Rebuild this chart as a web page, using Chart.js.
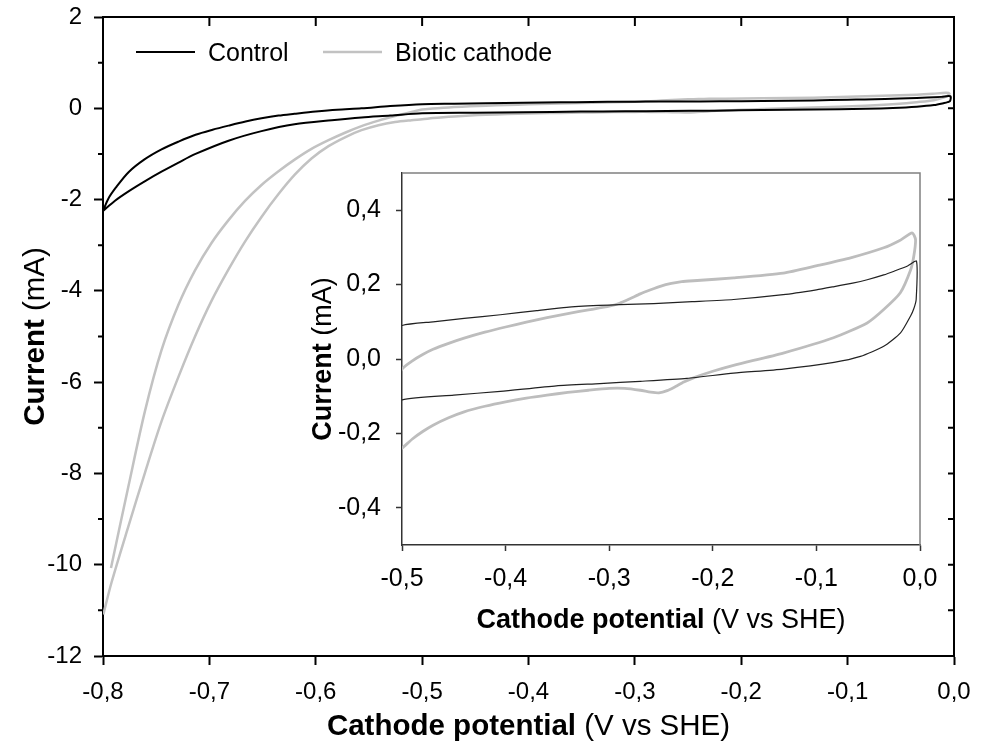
<!DOCTYPE html>
<html><head><meta charset="utf-8">
<script src="https://cdn.jsdelivr.net/npm/chart.js@4.4.0/dist/chart.umd.min.js"></script>
<style>
html,body{margin:0;padding:0;background:#fff;}
#wrap{position:relative;width:1000px;height:749px;overflow:hidden;background:#fff;}
#main{position:absolute;left:0;top:0;}
#inset{position:absolute;left:290px;top:160px;}
</style></head><body>
<div id="wrap"><canvas id="main" width="1000" height="749"></canvas><canvas id="inset" width="660" height="490"></canvas></div>
<script>
// ---- data (scan order: upper branch left->right, then lower branch right->left) ----
const seriesNames = ['Control', 'Biotic cathode'];

const controlPotential = [
 -0.800,-0.795,-0.788,-0.776,-0.761,-0.745,-0.729,-0.713,-0.697,-0.682,-0.666,-0.651,-0.635,-0.620,-0.600,-0.580,-0.557,-0.530,
 -0.500,-0.470,-0.440,-0.405,-0.370,-0.341,-0.310,-0.290,-0.257,-0.220,-0.180,-0.132,-0.100,-0.084,-0.065,-0.051,-0.035,-0.025,-0.012,-0.0034,
 -0.0037,-0.0060,-0.0092,-0.0188,-0.035,-0.0575,-0.083,-0.132,-0.180,-0.225,-0.270,-0.309,-0.351,-0.405,-0.450,-0.500,
 -0.530,-0.557,-0.585,-0.620,-0.651,-0.682,-0.713,-0.729,-0.745,-0.760,-0.776,-0.789,-0.800];
const controlCurrent = [
 -2.25,-1.98,-1.74,-1.40,-1.12,-0.90,-0.73,-0.58,-0.47,-0.38,-0.29,-0.22,-0.16,-0.12,-0.07,-0.03,0.00,0.05,
 0.090,0.100,0.109,0.119,0.130,0.139,0.144,0.146,0.149,0.154,0.160,0.173,0.186,0.194,0.204,0.213,0.226,0.236,0.250,0.263,
 0.160,0.135,0.115,0.070,0.034,0.007,-0.009,-0.027,-0.038,-0.052,-0.060,-0.066,-0.072,-0.087,-0.097,-0.110,
 -0.16,-0.20,-0.26,-0.35,-0.50,-0.71,-1.00,-1.19,-1.39,-1.59,-1.82,-2.03,-2.25];

const bioticPotential = [
 -0.7925,-0.776,-0.7605,-0.745,-0.729,-0.7135,-0.698,-0.682,-0.6665,-0.651,-0.635,-0.6195,-0.604,-0.588,-0.572,-0.557,-0.541,-0.5255,-0.510,
 -0.500,-0.490,-0.480,-0.470,-0.455,-0.440,-0.420,-0.400,-0.380,-0.360,-0.340,-0.320,-0.300,-0.290,-0.280,-0.270,-0.260,-0.250,-0.240,-0.230,-0.215,-0.180,-0.132,-0.0993,-0.067,-0.035,-0.020,-0.0075,
 -0.0043,-0.006,-0.009,-0.019,-0.035,-0.051,-0.0835,-0.132,-0.180,-0.200,-0.218,-0.228,-0.236,-0.244,-0.252,-0.260,-0.270,-0.285,-0.300,-0.320,-0.340,-0.360,-0.380,-0.400,-0.420,-0.440,-0.455,-0.470,-0.480,-0.490,-0.500,
 -0.510,-0.5255,-0.541,-0.557,-0.572,-0.588,-0.604,-0.6195,-0.635,-0.651,-0.6665,-0.682,-0.698,-0.7135,-0.729,-0.745,-0.7605,-0.776,-0.792,-0.7997];
const bioticCurrent = [
 -10.07,-8.27,-6.63,-5.30,-4.30,-3.55,-2.95,-2.45,-2.03,-1.68,-1.38,-1.12,-0.89,-0.70,-0.53,-0.39,-0.27,-0.17,-0.08,
 -0.027,-0.005,0.012,0.026,0.042,0.056,0.072,0.086,0.099,0.111,0.122,0.132,0.142,0.150,0.162,0.175,0.186,0.196,0.203,0.208,0.211,0.218,0.231,0.251,0.272,0.299,0.318,0.339,
 0.321,0.276,0.240,0.178,0.133,0.097,0.057,0.016,-0.017,-0.033,-0.050,-0.062,-0.074,-0.085,-0.091,-0.089,-0.084,-0.079,-0.079,-0.084,-0.090,-0.097,-0.105,-0.115,-0.127,-0.142,-0.158,-0.178,-0.195,-0.215,-0.240,
 -0.26,-0.30,-0.37,-0.48,-0.63,-0.83,-1.10,-1.45,-1.88,-2.38,-2.92,-3.53,-4.22,-5.00,-5.88,-6.86,-7.98,-9.15,-10.39,-11.09];

// ---- axes tick values ----
const mainXTicks = [-0.8,-0.7,-0.6,-0.5,-0.4,-0.3,-0.2,-0.1,0.0];
const mainYTicks = [-12,-10,-8,-6,-4,-2,0,2];
const mainYMinorTicks = [-11,-9,-7,-5,-3,-1,1];
const insetXTicks = [-0.5,-0.4,-0.3,-0.2,-0.1,0.0];
const insetYTicks = [-0.4,-0.2,0.0,0.2,0.4];

const FF = "'Liberation Sans', Arial, Helvetica, sans-serif";
const fmt1 = v => (Math.abs(v) < 1e-9 ? 0 : v).toFixed(1).replace('.', ',');
const fmt0 = v => String(Math.round(v));
const pts = (xs, ys) => xs.map((x, i) => ({x: x, y: ys[i]}));

function drawMixed(ctx, boldTxt, regTxt, size, cx, cy, rotate) {
  ctx.save();
  ctx.translate(cx, cy);
  if (rotate) ctx.rotate(-Math.PI / 2);
  ctx.fillStyle = '#000';
  ctx.textBaseline = 'alphabetic';
  ctx.textAlign = 'left';
  ctx.font = 'bold ' + size + 'px ' + FF;
  const wb = ctx.measureText(boldTxt).width;
  ctx.font = size + 'px ' + FF;
  const wr = ctx.measureText(regTxt).width;
  const x0 = -(wb + wr) / 2;
  ctx.font = 'bold ' + size + 'px ' + FF;
  ctx.fillText(boldTxt, x0, 0);
  ctx.font = size + 'px ' + FF;
  ctx.fillText(regTxt, x0 + wb, 0);
  ctx.restore();
}

const mainDeco = {
  id: 'mainDeco',
  afterDraw(chart) {
    const ctx = chart.ctx, a = chart.chartArea, xs = chart.scales.x, ys = chart.scales.y;
    ctx.save();
    ctx.strokeStyle = '#000';
    ctx.lineWidth = 2;
    ctx.beginPath();
    ctx.moveTo(a.left, a.top); ctx.lineTo(a.right, a.top); ctx.lineTo(a.right, a.bottom);
    ctx.stroke();
    ctx.beginPath();
    mainXTicks.forEach(v => { const x = xs.getPixelForValue(v); ctx.moveTo(x, a.top); ctx.lineTo(x, a.top + 9); });
    for (let v = -12; v <= 2; v++) { const y = ys.getPixelForValue(v); ctx.moveTo(a.right - 6, y); ctx.lineTo(a.right, y); }
    mainYMinorTicks.forEach(v => { const y = ys.getPixelForValue(v); ctx.moveTo(a.left - 5, y); ctx.lineTo(a.left, y); });
    ctx.stroke();
    // legend
    const ds = chart.data.datasets;
    const leg = [[136, 195, 208], [323, 382, 395]];
    ctx.font = '25px ' + FF;
    ctx.textBaseline = 'alphabetic';
    ctx.textAlign = 'left';
    ds.forEach((d, i) => {
      ctx.strokeStyle = d.borderColor; ctx.lineWidth = d.borderWidth;
      ctx.beginPath(); ctx.moveTo(leg[i][0], 52); ctx.lineTo(leg[i][1], 52); ctx.stroke();
      ctx.fillStyle = '#000';
      ctx.fillText(d.label, leg[i][2], 61);
    });
    ctx.restore();
    drawMixed(ctx, 'Cathode potential', ' (V vs SHE)', 29.5, (a.left + a.right) / 2, 735, false);
    drawMixed(ctx, 'Current', ' (mA)', 29.5, 44, (a.top + a.bottom) / 2, true);
  }
};

const insetDeco = {
  id: 'insetDeco',
  afterDraw(chart) {
    const ctx = chart.ctx, a = chart.chartArea;
    ctx.save();
    ctx.strokeStyle = '#808080';
    ctx.lineWidth = 1.5;
    ctx.beginPath();
    ctx.moveTo(a.left, a.top); ctx.lineTo(a.right, a.top); ctx.lineTo(a.right, a.bottom);
    ctx.stroke();
    ctx.restore();
    drawMixed(ctx, 'Cathode potential', ' (V vs SHE)', 27, (a.left + a.right) / 2, 468, false);
    drawMixed(ctx, 'Current', ' (mA)', 27, 41, (a.top + a.bottom) / 2, true);
  }
};

function axisCommon(len, w, col, pad, size) {
  return {
    grid: {display: true, drawOnChartArea: false, drawTicks: true, tickLength: len, tickColor: col, tickWidth: w},
    border: {display: true, color: col, width: w},
    ticks: {color: '#000', padding: pad, font: {family: FF, size: size}, maxRotation: 0, autoSkip: false}
  };
}
function fixPad(s) { s.paddingTop = 0; s.paddingBottom = 0; s.paddingLeft = 0; s.paddingRight = 0; }

// ---- main chart ----
const mx = axisCommon(9, 2, '#000', 13, 24);
mx.type = 'linear'; mx.position = 'bottom'; mx.min = -0.8; mx.max = 0;
mx.ticks.callback = v => fmt1(v);
mx.afterBuildTicks = s => { s.ticks = mainXTicks.map(v => ({value: v})); };
mx.afterFit = s => { s.height = 93; fixPad(s); };
const my = axisCommon(9, 2, '#000', 12, 24);
my.type = 'linear'; my.position = 'left'; my.min = -12; my.max = 2;
my.ticks.callback = v => fmt0(v);
my.afterBuildTicks = s => { s.ticks = mainYTicks.map(v => ({value: v})); };
my.afterFit = s => { s.width = 103; fixPad(s); };

new Chart(document.getElementById('main'), {
  type: 'line',
  data: {datasets: [
    {label: seriesNames[0], data: pts(controlPotential, controlCurrent), borderColor: '#000', borderWidth: 2, pointRadius: 0, tension: 0.3, fill: false},
    {label: seriesNames[1], data: pts(bioticPotential, bioticCurrent), borderColor: '#c2c2c2', borderWidth: 2.5, pointRadius: 0, tension: 0.3, fill: false}
  ]},
  options: {
    responsive: false, animation: false, devicePixelRatio: 1,
    layout: {padding: {top: 17, right: 46, left: 0, bottom: 0}},
    plugins: {legend: {display: false}, tooltip: {enabled: false}},
    scales: {x: mx, y: my}
  },
  plugins: [mainDeco]
});

// ---- inset chart ----
const ix = axisCommon(6, 1.5, '#333', 13, 25);
ix.type = 'linear'; ix.position = 'bottom'; ix.min = -0.5; ix.max = 0;
ix.ticks.callback = v => fmt1(v);
ix.afterBuildTicks = s => { s.ticks = insetXTicks.map(v => ({value: v})); };
ix.afterFit = s => { s.height = 105; fixPad(s); };
const iy = axisCommon(6, 1.5, '#333', 15, 25);
iy.type = 'linear'; iy.position = 'left'; iy.min = -0.5; iy.max = 0.5;
iy.ticks.callback = v => fmt1(v);
iy.afterBuildTicks = s => { s.ticks = insetYTicks.map(v => ({value: v})); };
iy.afterFit = s => { s.width = 112; fixPad(s); };

new Chart(document.getElementById('inset'), {
  type: 'line',
  data: {datasets: [
    {label: seriesNames[0], data: pts(controlPotential, controlCurrent), borderColor: '#222', borderWidth: 1.2, pointRadius: 0, tension: 0.2, fill: false},
    {label: seriesNames[1], data: pts(bioticPotential, bioticCurrent), borderColor: '#bdbdbd', borderWidth: 2.8, pointRadius: 0, tension: 0.2, fill: false}
  ]},
  options: {
    responsive: false, animation: false, devicePixelRatio: 1,
    layout: {padding: {top: 13, right: 30, left: 0, bottom: 0}},
    plugins: {legend: {display: false}, tooltip: {enabled: false}},
    scales: {x: ix, y: iy}
  },
  plugins: [insetDeco]
});
</script>
</body></html>
